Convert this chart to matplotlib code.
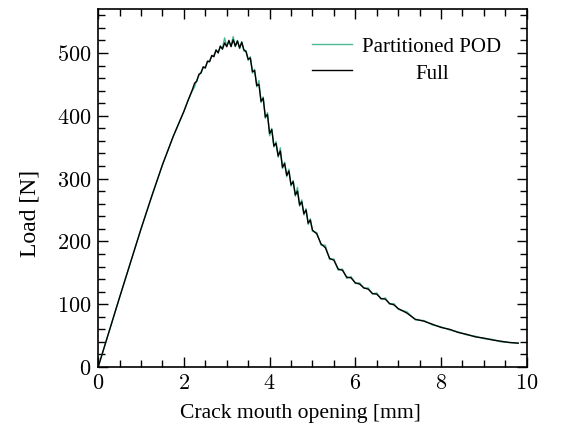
import numpy as np
import matplotlib
matplotlib.use('Agg')
from matplotlib import pyplot as plt
from matplotlib.ticker import MultipleLocator, FuncFormatter

plt.rcParams['font.family'] = ['Liberation Serif', 'DejaVu Serif']
plt.rcParams['mathtext.fontset'] = 'cm'
plt.rcParams['mathtext.default'] = 'rm'

# crack mouth opening [mm]
cmod = [0.0, 0.5, 1.0, 1.25, 1.5, 1.75, 2.0, 2.1,
        2.20, 2.25, 2.30, 2.35, 2.40, 2.45, 2.50, 2.55, 2.60, 2.65,
        2.70, 2.75, 2.80, 2.85, 2.90, 2.95, 3.00, 3.05, 3.10, 3.15,
        3.20, 3.25, 3.30, 3.35, 3.40, 3.45, 3.50, 3.55, 3.60, 3.65,
        3.70, 3.75, 3.80, 3.85, 3.90, 3.95, 4.00, 4.05, 4.10, 4.15,
        4.20, 4.25, 4.30, 4.35, 4.40, 4.45, 4.50, 4.55, 4.60, 4.65,
        4.70, 4.75, 4.80, 4.85, 4.90, 4.95, 5.00,
        5.10, 5.20, 5.30, 5.40, 5.50, 5.60, 5.70, 5.80, 5.90, 6.00,
        6.10, 6.20, 6.30, 6.40, 6.50, 6.60, 6.70, 6.80, 6.90, 7.00,
        7.20, 7.40, 7.60, 7.80, 8.00, 8.20, 8.40, 8.60, 8.80, 9.00,
        9.20, 9.40, 9.60, 9.80]

load_full = [0, 111, 220, 272, 322, 367, 407, 425,
             442, 452, 455, 466, 468, 478, 476, 487, 486, 496,
             494, 505, 500, 511, 506, 516, 510, 520, 510, 521,
             511, 519, 508, 517, 505, 502, 490, 492, 470, 472,
             448, 450, 423, 428, 398, 402, 372, 378, 352, 356,
             336, 344, 318, 324, 305, 312, 290, 295, 274, 280,
             258, 263, 244, 250, 229, 234, 218,
             212, 196, 190, 173, 170, 156, 154, 143, 142, 134,
             132, 126, 124, 117, 116, 109, 108, 101, 99, 93,
             86, 76, 73, 68, 63, 60, 55, 52, 48, 46,
             43, 41, 39, 38]

load_pod = [0, 111, 220, 272, 322, 367, 407, 425,
            440, 446, 457, 464, 470, 476, 478, 485, 488, 494,
            497, 503, 502, 509, 508, 524, 511, 518, 512, 526,
            510, 520, 507, 518, 503, 504, 488, 494, 468, 474,
            446, 456, 421, 430, 396, 405, 368, 380, 350, 359,
            334, 349, 316, 326, 303, 315, 288, 297, 272, 286,
            256, 266, 242, 252, 227, 236, 216,
            214, 194, 194, 171, 172, 154, 156, 141, 144, 133,
            134, 125, 126, 116, 118, 108, 110, 100, 101, 92,
            88, 75, 74, 67, 64, 59, 56, 51, 49, 45,
            44, 40, 39, 38]

fig = plt.figure(figsize=(5.61, 4.35), dpi=100)
ax = fig.add_axes([0.175, 0.154, 0.764, 0.823])

ax.plot(cmod, load_pod, color='#4cb894', lw=1.0, label='Partitioned POD')
ax.plot(cmod, load_full, color='black', lw=1.0, label='Full')

ax.set_xlim(0, 10)
ax.set_ylim(0, 570)
ax.xaxis.set_major_locator(MultipleLocator(2))
ax.xaxis.set_minor_locator(MultipleLocator(0.5))
ax.yaxis.set_major_locator(MultipleLocator(100))
ax.yaxis.set_minor_locator(MultipleLocator(20))
fmt = FuncFormatter(lambda v, p: '$%d$' % round(v))
ax.xaxis.set_major_formatter(fmt)
ax.yaxis.set_major_formatter(fmt)
ax.tick_params(which='both', direction='in', top=True, right=True, labelsize=16)
ax.tick_params(which='major', length=7.5, width=1, pad=5)
ax.tick_params(which='minor', length=5, width=1)
for s in ax.spines.values():
    s.set_linewidth(1.2)

ax.set_xlabel('Crack mouth opening [mm]', fontsize=15.6, labelpad=7)
ax.set_ylabel('Load [N]', fontsize=17, labelpad=12)
ax.xaxis.label.set_x(0.472)
ax.yaxis.label.set_y(0.433)

leg = ax.legend(loc='upper right', frameon=False, fontsize=15,
                handlelength=1.9, handletextpad=0.5, labelspacing=0.32,
                bbox_to_anchor=(0.985, 0.975))
fig.canvas.draw()
txts = leg.get_texts()
w0 = txts[0].get_window_extent().width
w1 = txts[1].get_window_extent().width
txts[1].set_x((w0 - w1) / 2)

fig.savefig('out.png', dpi=100)
